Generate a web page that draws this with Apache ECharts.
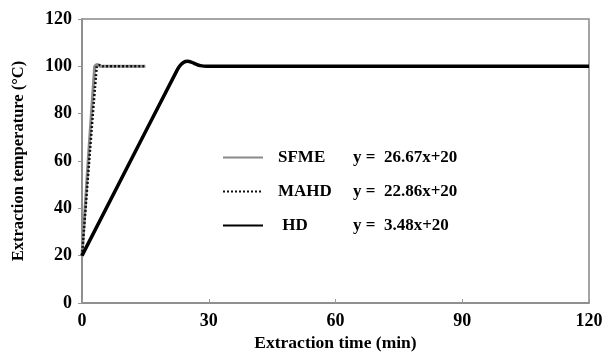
<!DOCTYPE html>
<html>
<head>
<meta charset="utf-8">
<script src="https://cdn.jsdelivr.net/npm/echarts@6/dist/echarts.min.js"></script>
<style>
  html, body { margin: 0; padding: 0; background: #fff; }
  #chart { width: 604px; height: 352px; }
</style>
</head>
<body>
<div id="chart"></div>
<script>
// 数据：时间(min) / 温度(°C)
const sfmeData = [[0, 20], [3, 100], [3.6, 100.8], [4.3, 100], [15, 100]];
const mahdData = [[0, 20], [3.5, 100], [4.1, 100.6], [4.8, 100], [15, 100]];
const hdData = [[0, 20], [22, 96.6], [23, 99.8], [24, 101.6], [25, 102.1], [26, 101.7],
  [27, 100.9], [28, 100.3], [29.5, 100], [120, 100]];
const seriesNames = ['SFME', 'MAHD', 'HD'];
const equations = ['y =  26.67x+20', 'y =  22.86x+20', 'y =  3.48x+20'];
const xTicks = [0, 30, 60, 90, 120];
const yTicks = [0, 20, 40, 60, 80, 100, 120];

const font = 'Liberation Serif';
const chart = echarts.init(document.getElementById('chart'));

const option = {
  backgroundColor: '#fff',
  animation: false,
  grid: {
    left: 82, right: 15, top: 19, bottom: 49,
    outerBoundsMode: 'none',
    containLabel: false,
    show: true, borderColor: '#888', borderWidth: 1.5
  },
  legend: {
    orient: 'vertical',
    left: 222,
    top: 149,
    itemWidth: 40,
    itemHeight: 17,
    itemGap: 17,
    padding: [0, 0, 0, 0],
    data: seriesNames,
    itemStyle: { opacity: 0 }, // 只显示线，不显示圆点
    formatter: function (name) {
      const i = seriesNames.indexOf(name);
      const n = name === 'HD' ? ' HD' : name;
      return '{n|' + n + '}{e|' + equations[i] + '}';
    },
    textStyle: {
      fontFamily: font,
      fontWeight: 'bold',
      fontSize: 17,
      color: '#000',
      rich: {
        n: { width: 75, fontFamily: font, fontWeight: 'bold', fontSize: 17, color: '#000', padding: [0, 0, 0, 10] },
        e: { fontFamily: font, fontWeight: 'bold', fontSize: 17, color: '#000' }
      }
    }
  },
  xAxis: {
    type: 'value',
    min: 0, max: 120, interval: 30,
    name: 'Extraction time (min)',
    nameLocation: 'middle',
    nameGap: 31,
    nameTextStyle: { fontFamily: font, fontWeight: 'bold', fontSize: 17.5, color: '#000' },
    axisLine: { lineStyle: { color: '#888', width: 1.5 } },
    axisTick: { inside: true, length: 4, lineStyle: { color: '#999' } },
    axisLabel: {
      margin: 9, fontFamily: font, fontWeight: 'bold', fontSize: 18, color: '#000',
      customValues: xTicks
    },
    splitLine: { show: false }
  },
  yAxis: {
    type: 'value',
    min: 0, max: 120, interval: 20,
    name: 'Extraction temperature (°C)',
    nameLocation: 'middle',
    nameGap: 55,
    nameTextStyle: { fontFamily: font, fontWeight: 'bold', fontSize: 16.5, color: '#000' },
    axisLine: { show: true, lineStyle: { color: '#888', width: 1.5 } },
    axisTick: { show: true, length: 4, lineStyle: { color: '#999' } },
    axisLabel: {
      margin: 10, fontFamily: font, fontWeight: 'bold', fontSize: 18, color: '#000',
      customValues: yTicks
    },
    splitLine: { show: false }
  },
  series: [
    {
      name: 'SFME', type: 'line', data: sfmeData, symbol: 'none', smooth: 0.2,
      lineStyle: { color: '#8a8a8a', width: 3 }, itemStyle: { color: '#8a8a8a' }
    },
    {
      name: 'MAHD', type: 'line', data: mahdData, symbol: 'none', smooth: 0.2,
      lineStyle: { color: '#111', width: 2.5, type: [2, 2] }, itemStyle: { color: '#111' }
    },
    {
      name: 'HD', type: 'line', data: hdData, symbol: 'none', smooth: 0.4,
      lineStyle: { color: '#000', width: 3.5 }, itemStyle: { color: '#000' }
    }
  ]
};
chart.setOption(option);
</script>
</body>
</html>
